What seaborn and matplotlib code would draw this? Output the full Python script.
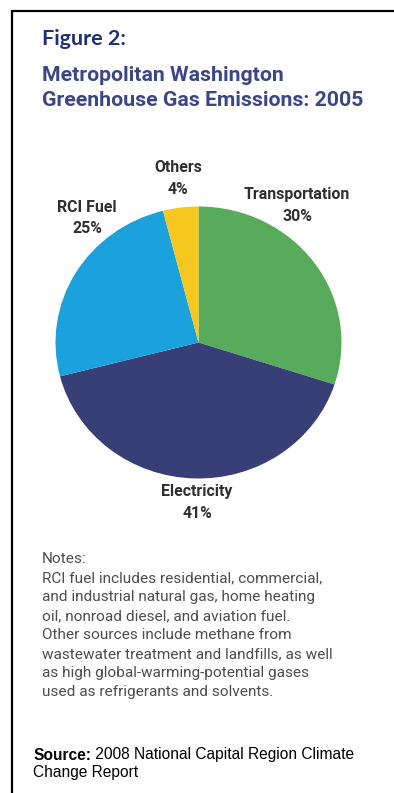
import matplotlib
matplotlib.use("Agg")
import matplotlib.pyplot as plt
from matplotlib import font_manager as fm
from matplotlib.lines import Line2D
import seaborn as sns

# ---------------- data ----------------
categories = ["Transportation", "Electricity", "RCI Fuel", "Others"]
shares = [30, 41, 25, 4]
slice_colors = ["#58ab5b", "#383e76", "#1ba2dc", "#f5c71f"]

title_fig = "Figure 2:"
title_lines = ["Metropolitan Washington", "Greenhouse Gas Emissions: 2005"]
notes_lines = [
    "Notes:",
    "RCI fuel includes residential, commercial,",
    "and industrial natural gas, home heating",
    "oil, nonroad diesel, and aviation fuel.",
    "Other sources include methane from",
    "wastewater treatment and landfills, as well",
    "as high global-warming-potential gases",
    "used as refrigerants and solvents.",
]
source_bold = "Source:"
source_rest = " 2008 National Capital Region Climate"
source_line2 = "Change Report"

# ---------------- style ----------------
sns.set_theme(style="white")
palette = sns.color_palette(slice_colors)

names = {f.name for f in fm.fontManager.ttflist}
narrow = "Liberation Sans Narrow" if "Liberation Sans Narrow" in names else "Roboto"
arial = "Liberation Sans"
calibri = "Lato"

W, H = 394, 793
DPI = 100
fig = plt.figure(figsize=(W / DPI, H / DPI), dpi=DPI)
fig.patch.set_facecolor("white")


def fx(x):
    return x / W


def fy(y):
    return 1 - y / H


renderer = fig.canvas.get_renderer()


def fit(t, target_w):
    bb = t.get_window_extent(renderer=renderer)
    t.set_fontsize(t.get_fontsize() * target_w / bb.width)
    return t.get_fontsize()


# ---------------- border ----------------
fig.add_artist(Line2D([fx(12), fx(W)], [fy(11), fy(11)], color="black", lw=1.6,
                      transform=fig.transFigure, solid_capstyle="butt"))
fig.add_artist(Line2D([fx(12), fx(12)], [fy(10.3), fy(H)], color="black", lw=1.6,
                      transform=fig.transFigure, solid_capstyle="butt"))

# ---------------- titles ----------------
t = fig.text(fx(42), fy(45), title_fig, fontsize=15, fontweight="bold",
             family=calibri, color="#1f3176", va="baseline", ha="left")
fit(t, 84)

t1 = fig.text(fx(42), fy(81), title_lines[0], fontsize=13, fontweight="bold",
              family=narrow, color="#3b4685", va="baseline", ha="left")
fs = fit(t1, 241)
fig.text(fx(42), fy(106), title_lines[1], fontsize=fs, fontweight="bold",
         family=narrow, color="#3b4685", va="baseline", ha="left")

# ---------------- pie ----------------
cx, cy, rx, ry = 198.5, 342.5, 143, 136
ax = fig.add_axes([fx(cx - rx), fy(cy + ry), 2 * rx / W, 2 * ry / H])
ax.pie(shares, colors=palette, startangle=90, counterclock=False,
       wedgeprops=dict(linewidth=0))
ax.set_aspect("auto")
ax.set_xlim(-1, 1)
ax.set_ylim(-1, 1)
ax.axis("off")

label_pos = {
    "Transportation": (297, 195),
    "Electricity": (197, 492),
    "RCI Fuel": (87, 207),
    "Others": (178, 168),
}
tmp = fig.text(0, 0, "Transportation", fontsize=10, fontweight="bold", family=narrow)
lfs = fit(tmp, 106)
tmp.remove()
for cat, val in zip(categories, shares):
    x, y = label_pos[cat]
    fig.text(fx(x), fy(y), cat, fontsize=lfs, fontweight="bold", family=narrow,
             color="#2f2f2f", ha="center", va="center")
    fig.text(fx(x), fy(y + 21.5), f"{val}%", fontsize=lfs, fontweight="bold",
             family=narrow, color="#2f2f2f", ha="center", va="center")

# ---------------- notes ----------------
tmp = fig.text(0, 0, notes_lines[1], fontsize=10, family=narrow)
nfs = fit(tmp, 280)
tmp.remove()
for i, line in enumerate(notes_lines):
    fig.text(fx(42), fy(559 + i * 19.0), line, fontsize=nfs, family=narrow,
             color="#4d4d4d", ha="left", va="center")

# ---------------- source ----------------
sb = fig.text(fx(33), fy(759.5), source_bold, fontsize=9, fontweight="bold",
              family=arial, color="black", ha="left", va="baseline")
full = fig.text(0, 0, source_bold + source_rest, fontsize=9, family=arial)
sfs = fit(full, 319) 
full.remove()
sb.set_fontsize(sfs)
bw = sb.get_window_extent(renderer=renderer).width
fig.text(fx(33 + bw), fy(759.5), source_rest, fontsize=sfs, family=arial,
         color="black", ha="left", va="baseline")
fig.text(fx(33), fy(777), source_line2, fontsize=sfs, family=arial,
         color="black", ha="left", va="baseline")

fig.savefig("out.png", dpi=DPI, facecolor="white")
